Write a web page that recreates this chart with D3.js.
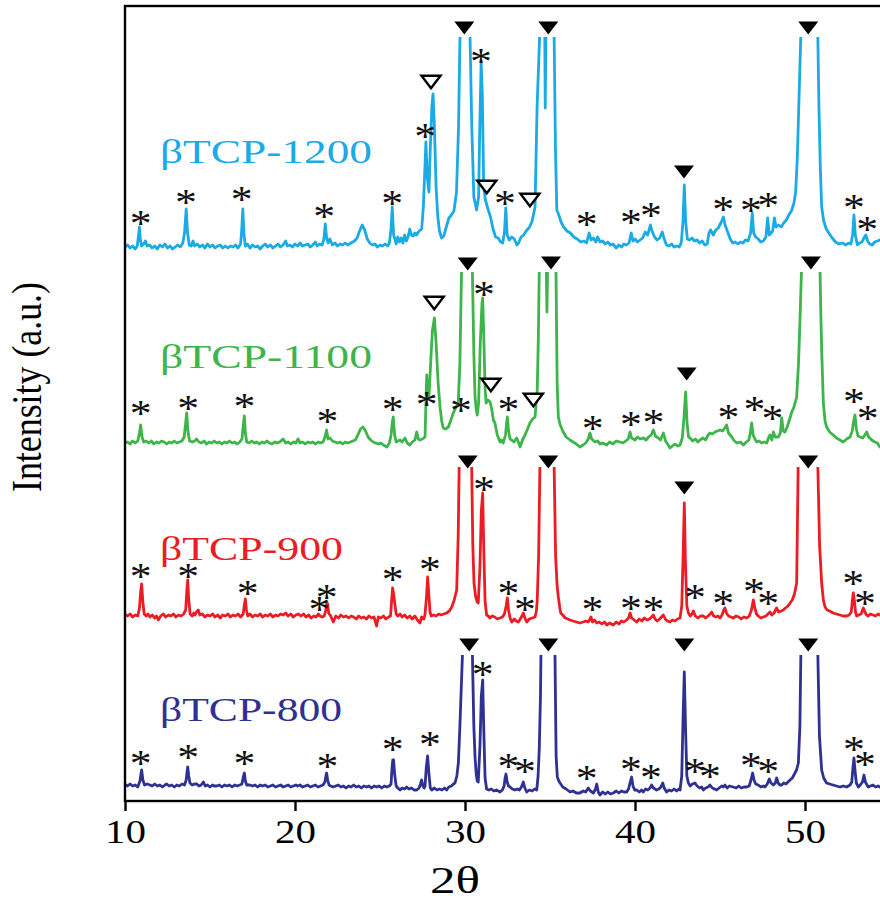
<!DOCTYPE html>
<html>
<head>
<meta charset="utf-8">
<script src="https://cdn.jsdelivr.net/npm/d3@7"></script>
<style>
  body { margin: 0; background: #fff; }
  svg { display: block; }
  text { font-family: "Liberation Serif", "Times New Roman", serif; }
</style>
</head>
<body>
<svg id="chart" width="880" height="902"></svg>
<script>
// XRD patterns of β-TCP calcined at four temperatures, stacked with vertical offsets.
// Each pattern: [2θ (deg), intensity above its own baseline (a.u.)]

const sampleNames = ["βTCP-1200", "βTCP-1100", "βTCP-900", "βTCP-800"];
const sampleColors = ["#1aabe6", "#3db54a", "#ec1c24", "#2e3192"];
const sampleOffsets = [554, 358, 185, 15];      // stacking offset of each pattern (a.u.)
const sampleCaps = [210, 171, 149, 131];        // strongest reflections are cut at this level
const xTicks = [10, 20, 30, 40, 50];

const pattern1200 = [
  [10.0,0],[10.15,2],[10.3,-1],[10.45,1],[10.6,-2],[10.72,1],[10.8,12],[10.85,20],[10.9,8],[10.97,1],
  [11.1,3],[11.2,6],[11.3,1],[11.45,2],[11.6,-1],[11.75,1],[11.9,-2],[12.05,2],[12.2,0],[12.35,3],
  [12.5,-1],[12.65,1],[12.8,-2],[12.95,0],[13.1,2],[13.25,0],[13.4,4],[13.5,14],[13.6,38],[13.68,14],
  [13.78,2],[13.9,1],[14.0,6],[14.1,1],[14.25,3],[14.4,0],[14.55,2],[14.7,-1],[14.85,3],[15.0,0],
  [15.15,2],[15.3,-1],[15.45,1],[15.6,2],[15.75,-1],[15.9,1],[16.05,-1],[16.2,1],[16.35,0],[16.5,2],
  [16.65,-1],[16.8,3],[16.87,18],[16.93,38],[17.0,12],[17.08,1],[17.2,3],[17.35,-1],[17.5,2],[17.65,0],
  [17.8,1],[17.95,-2],[18.1,1],[18.25,3],[18.4,0],[18.55,2],[18.7,-1],[18.85,1],[19.0,3],[19.15,0],
  [19.3,2],[19.45,6],[19.55,1],[19.7,2],[19.85,0],[20.0,3],[20.15,1],[20.3,4],[20.45,1],[20.6,2],
  [20.75,3],[20.9,0],[21.05,2],[21.2,5],[21.3,1],[21.45,3],[21.6,2],[21.7,8],[21.78,23],[21.86,9],
  [21.95,4],[22.05,8],[22.2,2],[22.35,4],[22.5,1],[22.65,3],[22.8,2],[22.95,4],[23.1,2],[23.3,4],
  [23.5,6],[23.65,9],[23.8,16],[23.95,22],[24.1,17],[24.25,8],[24.4,4],[24.55,2],[24.7,3],[24.85,0],
  [25.0,2],[25.15,1],[25.3,3],[25.45,1],[25.55,4],[25.65,18],[25.72,40],[25.8,12],[25.88,8],[25.95,3],
  [26.05,10],[26.15,5],[26.25,9],[26.35,4],[26.45,12],[26.55,6],[26.65,10],[26.75,18],[26.85,12],[26.95,11],
  [27.05,14],[27.15,12],[27.3,16],[27.45,18],[27.55,40],[27.62,70],[27.7,105],[27.78,70],[27.88,55],[27.96,100],
  [28.05,140],[28.12,153],[28.2,120],[28.3,60],[28.4,30],[28.5,16],[28.62,9],[28.75,11],[28.9,20],[29.05,29],
  [29.2,32],[29.35,36],[29.5,55],[29.62,120],[29.71,215],[30.0,900],[30.29,215],[30.4,120],[30.52,50],[30.68,37],
  [30.8,50],[30.87,120],[30.95,185],[31.02,150],[31.1,60],[31.2,47],[31.35,38],[31.5,30],[31.65,18],[31.8,10],
  [31.95,9],[32.1,5],[32.22,4],[32.32,15],[32.4,39],[32.48,12],[32.6,7],[32.75,10],[32.9,8],[33.05,2],
  [33.15,4],[33.3,10],[33.45,12],[33.6,16],[33.8,20],[33.95,26],[34.12,40],[34.24,140],[34.4,215],[34.55,800],
  [34.69,215],[34.72,139],[34.76,215],[35.05,800],[35.24,215],[35.32,100],[35.4,37],[35.5,33],[35.65,25],[35.8,20],
  [36.0,16],[36.2,14],[36.4,10],[36.6,8],[36.8,5],[37.0,6],[37.15,4],[37.3,14],[37.42,7],[37.55,9],
  [37.7,5],[37.8,10],[37.95,5],[38.1,6],[38.25,3],[38.4,5],[38.55,2],[38.7,3],[38.9,-1],[39.05,2],
  [39.2,0],[39.35,3],[39.5,2],[39.65,4],[39.78,14],[39.88,6],[40.0,8],[40.15,5],[40.3,7],[40.45,9],
  [40.6,15],[40.75,12],[40.9,22],[41.0,16],[41.15,10],[41.3,7],[41.45,9],[41.6,15],[41.72,8],[41.85,2],
  [42.0,1],[42.15,3],[42.3,0],[42.45,1],[42.6,0],[42.72,4],[42.82,25],[42.9,62],[42.98,25],[43.08,8],
  [43.2,7],[43.35,9],[43.5,6],[43.65,7],[43.8,4],[43.95,6],[44.1,2],[44.25,3],[44.35,14],[44.45,17],
  [44.6,12],[44.75,17],[44.9,19],[45.05,24],[45.2,30],[45.3,22],[45.45,15],[45.6,8],[45.75,4],[45.9,5],
  [46.05,3],[46.2,5],[46.35,4],[46.5,7],[46.65,6],[46.8,14],[46.9,34],[46.98,14],[47.1,10],[47.25,8],
  [47.4,5],[47.55,6],[47.7,10],[47.8,29],[47.9,12],[48.0,14],[48.1,16],[48.2,29],[48.3,20],[48.45,22],
  [48.6,20],[48.75,24],[48.9,27],[49.05,32],[49.2,36],[49.35,44],[49.45,55],[49.55,90],[49.65,150],[49.76,215],
  [50.25,900],[50.75,215],[50.82,140],[50.9,80],[50.98,40],[51.1,26],[51.25,18],[51.4,14],[51.6,9],[51.8,5],
  [52.0,3],[52.2,4],[52.4,2],[52.55,4],[52.7,3],[52.8,12],[52.88,32],[52.96,12],[53.08,2],[53.2,4],
  [53.35,5],[53.5,10],[53.58,12],[53.68,6],[53.8,3],[53.95,2],[54.1,5],[54.25,6],[54.4,7],[54.6,5],
  [54.8,4],[55.0,4]
];

const pattern1100 = [
  [10.0,0],[10.15,1],[10.3,-1],[10.45,2],[10.6,0],[10.75,2],[10.85,10],[10.92,18],[11.0,6],[11.1,1],
  [11.25,2],[11.4,0],[11.55,2],[11.7,-1],[11.85,1],[12.0,0],[12.15,2],[12.3,1],[12.45,-1],[12.6,1],
  [12.75,0],[12.9,2],[13.05,0],[13.2,1],[13.35,2],[13.48,6],[13.57,20],[13.63,30],[13.7,12],[13.8,2],
  [13.95,1],[14.1,2],[14.21,4],[14.35,1],[14.5,0],[14.65,2],[14.8,-1],[14.95,1],[15.1,0],[15.25,2],
  [15.4,0],[15.55,1],[15.7,-1],[15.85,1],[16.0,0],[16.15,2],[16.3,0],[16.45,1],[16.6,-1],[16.75,1],
  [16.88,4],[16.96,18],[17.02,27],[17.08,10],[17.16,1],[17.3,0],[17.45,2],[17.6,0],[17.75,1],[17.9,-1],
  [18.05,1],[18.2,0],[18.35,2],[18.5,0],[18.65,-1],[18.8,1],[18.95,0],[19.1,1],[19.3,4],[19.45,0],
  [19.6,1],[19.75,-1],[19.9,1],[20.05,0],[20.18,4],[20.3,0],[20.45,1],[20.6,-1],[20.75,1],[20.9,0],
  [21.05,1],[21.2,-1],[21.35,1],[21.5,0],[21.65,1],[21.76,6],[21.86,13],[21.94,4],[22.06,5],[22.2,2],
  [22.35,1],[22.5,0],[22.65,1],[22.8,-1],[22.95,1],[23.1,0],[23.25,1],[23.4,2],[23.55,3],[23.7,8],
  [23.85,14],[24.0,16],[24.15,12],[24.3,6],[24.45,3],[24.6,1],[24.75,0],[24.9,-1],[25.05,0],[25.2,-2],
  [25.4,-4],[25.55,0],[25.65,8],[25.72,20],[25.78,26],[25.86,8],[25.95,1],[26.05,2],[26.18,3],[26.3,1],
  [26.47,5],[26.6,0],[26.76,-2],[26.9,1],[27.05,3],[27.16,11],[27.25,4],[27.35,3],[27.5,4],[27.65,6],
  [27.7,40],[27.75,68],[27.82,50],[27.88,46],[27.98,80],[28.08,112],[28.2,125],[28.3,100],[28.42,60],[28.53,36],
  [28.63,22],[28.72,15],[28.85,14],[29.02,16],[29.15,22],[29.31,30],[29.45,35],[29.6,40],[29.7,80],[29.8,176],
  [30.1,900],[30.43,176],[30.52,90],[30.59,46],[30.66,34],[30.72,28],[30.8,40],[30.9,100],[31.0,140],[31.04,145],
  [31.1,110],[31.18,55],[31.24,40],[31.35,43],[31.47,41],[31.57,34],[31.67,23],[31.76,20],[31.9,8],[32.06,1],
  [32.15,3],[32.25,0],[32.38,8],[32.45,20],[32.49,26],[32.56,12],[32.65,4],[32.75,3],[32.88,1],[33.04,5],
  [33.14,1],[33.24,-4],[33.38,3],[33.53,8],[33.68,14],[33.82,20],[33.98,24],[34.12,26],[34.25,53],[34.32,110],
  [34.37,176],[34.6,800],[34.78,176],[34.82,131],[34.86,176],[35.1,800],[35.35,176],[35.42,60],[35.49,26],[35.6,18],
  [35.78,11],[35.95,6],[36.18,3],[36.35,1],[36.55,-1],[36.76,-4],[36.95,-2],[37.1,0],[37.25,4],[37.35,10],
  [37.45,4],[37.65,1],[37.8,2],[37.95,-1],[38.1,0],[38.33,-2],[38.5,1],[38.7,-1],[38.9,2],[39.12,1],
  [39.3,0],[39.45,2],[39.6,4],[39.71,11],[39.8,5],[40.0,3],[40.15,6],[40.3,4],[40.49,5],[40.65,3],
  [40.8,6],[40.95,8],[41.08,13],[41.2,7],[41.37,5],[41.5,3],[41.67,10],[41.8,2],[41.95,-2],[42.06,-5],
  [42.2,-3],[42.35,-1],[42.5,-3],[42.65,-2],[42.78,5],[42.88,25],[42.98,51],[43.06,20],[43.15,6],[43.24,5],
  [43.4,2],[43.55,4],[43.7,1],[43.82,3],[44.0,5],[44.15,3],[44.3,8],[44.41,10],[44.55,9],[44.7,11],
  [44.85,12],[45.0,13],[45.15,12],[45.28,15],[45.39,18],[45.5,10],[45.69,6],[45.85,2],[46.0,0],[46.2,1],
  [46.37,-2],[46.55,1],[46.7,3],[46.8,12],[46.86,20],[46.95,8],[47.05,4],[47.16,1],[47.3,2],[47.45,0],
  [47.6,1],[47.75,0],[47.85,5],[47.94,8],[48.05,3],[48.14,11],[48.25,6],[48.43,6],[48.55,10],[48.63,25],
  [48.72,12],[48.82,11],[48.95,16],[49.1,24],[49.22,31],[49.35,36],[49.51,46],[49.62,80],[49.71,126],[49.8,176],
  [50.35,900],[50.88,176],[50.93,130],[50.98,93],[51.08,40],[51.18,22],[51.27,16],[51.45,11],[51.66,8],[51.85,5],
  [52.05,3],[52.25,1],[52.45,4],[52.65,6],[52.78,12],[52.86,22],[52.94,28],[53.02,14],[53.12,7],[53.24,6],
  [53.4,5],[53.52,8],[53.63,11],[53.75,6],[53.92,3],[54.1,1],[54.25,0],[54.41,-4],[54.6,-2],[54.8,-3],
  [55.0,-2]
];

const pattern900 = [
  [10.0,2],[10.15,0],[10.3,2],[10.45,-1],[10.6,1],[10.75,0],[10.85,8],[10.92,24],[10.98,32],[11.05,14],
  [11.13,2],[11.25,0],[11.35,2],[11.47,-1],[11.6,1],[11.75,-2],[11.86,0],[11.96,-4],[12.1,0],[12.25,2],
  [12.4,-1],[12.55,1],[12.7,0],[12.85,2],[13.0,-1],[13.15,1],[13.3,0],[13.45,2],[13.57,6],[13.64,26],
  [13.69,36],[13.75,16],[13.83,2],[13.95,0],[14.05,3],[14.12,1],[14.2,4],[14.31,6],[14.4,1],[14.55,2],
  [14.7,-1],[14.85,1],[15.0,0],[15.15,2],[15.3,-1],[15.45,1],[15.6,-2],[15.75,1],[15.9,0],[16.05,2],
  [16.2,-1],[16.35,1],[16.5,0],[16.65,2],[16.8,-1],[16.95,2],[17.03,12],[17.08,17],[17.14,6],[17.22,0],
  [17.35,2],[17.5,-1],[17.65,1],[17.8,0],[17.95,2],[18.1,-1],[18.25,1],[18.4,0],[18.55,2],[18.7,-1],
  [18.85,1],[19.0,0],[19.15,2],[19.31,1],[19.45,3],[19.6,0],[19.75,2],[19.9,-1],[20.05,1],[20.2,2],
  [20.35,0],[20.5,2],[20.65,-1],[20.8,1],[20.95,-2],[21.1,0],[21.25,-1],[21.37,2],[21.47,0],[21.6,-1],
  [21.72,0],[21.8,5],[21.86,12],[21.92,12],[21.98,3],[22.1,0],[22.25,-6],[22.4,0],[22.55,-2],[22.7,1],
  [22.85,-1],[23.0,0],[23.15,-2],[23.3,0],[23.45,-1],[23.6,-3],[23.75,0],[23.9,-2],[24.05,-1],[24.2,-3],
  [24.35,0],[24.5,-2],[24.65,-1],[24.8,-10],[24.9,-1],[25.05,-2],[25.2,0],[25.35,-3],[25.5,-1],[25.62,0],
  [25.68,14],[25.74,28],[25.8,22],[25.86,14],[25.95,2],[26.05,0],[26.18,2],[26.3,-1],[26.45,1],[26.6,-2],
  [26.75,0],[26.9,-3],[27.05,0],[27.2,-4],[27.35,-7],[27.45,-1],[27.58,-3],[27.65,2],[27.74,20],[27.8,39],
  [27.86,25],[27.94,4],[28.02,0],[28.14,1],[28.3,0],[28.45,2],[28.6,1],[28.75,2],[28.92,3],[29.08,5],
  [29.22,9],[29.35,15],[29.51,26],[29.6,80],[29.66,153],[30.0,900],[30.39,153],[30.46,70],[30.53,33],[30.62,20],
  [30.72,14],[30.78,13],[30.88,50],[30.96,105],[31.04,123],[31.1,70],[31.18,15],[31.27,1],[31.37,0],[31.47,-2],
  [31.6,0],[31.75,-1],[31.9,-3],[32.06,-2],[32.2,-1],[32.32,2],[32.42,10],[32.49,18],[32.56,6],[32.65,-2],
  [32.75,-6],[32.9,-3],[33.0,-5],[33.14,-6],[33.25,-3],[33.35,0],[33.43,3],[33.52,-2],[33.63,-6],[33.78,-3],
  [33.95,-2],[34.12,-1],[34.2,5],[34.25,16],[34.33,60],[34.41,153],[34.8,800],[35.24,153],[35.33,60],[35.42,30],
  [35.49,19],[35.57,9],[35.63,3],[35.75,1],[35.9,-2],[36.05,-3],[36.18,-4],[36.35,-5],[36.55,-6],[36.76,-7],
  [36.95,-6],[37.1,-5],[37.25,-6],[37.35,-3],[37.41,-1],[37.5,-6],[37.62,-4],[37.75,-7],[37.9,-6],[38.05,-8],
  [38.2,-6],[38.35,-9],[38.5,-7],[38.72,-9],[38.9,-6],[39.05,-8],[39.2,-5],[39.35,-6],[39.5,-4],[39.62,-2],
  [39.71,3],[39.8,-2],[39.95,-4],[40.1,-6],[40.25,-3],[40.4,-5],[40.55,-2],[40.7,-4],[40.85,-3],[40.98,-1],
  [41.08,1],[41.18,-3],[41.3,-5],[41.45,-3],[41.56,-1],[41.67,1],[41.78,-3],[41.9,-5],[42.06,-6],[42.2,-4],
  [42.35,-5],[42.5,-3],[42.65,-2],[42.75,10],[42.83,60],[42.9,113],[42.97,50],[43.05,10],[43.14,3],[43.25,0],
  [43.35,2],[43.43,5],[43.55,0],[43.7,-2],[43.85,0],[44.02,0],[44.15,-2],[44.3,0],[44.42,2],[44.51,4],
  [44.62,0],[44.75,-1],[44.88,0],[45.0,-2],[45.12,1],[45.22,6],[45.29,8],[45.38,3],[45.5,0],[45.65,-1],
  [45.78,-2],[45.95,0],[46.1,-1],[46.25,-3],[46.4,-1],[46.57,-2],[46.72,0],[46.85,6],[46.96,16],[47.05,8],
  [47.15,2],[47.25,0],[47.4,-2],[47.55,-1],[47.7,0],[47.82,2],[47.94,4],[48.05,1],[48.18,3],[48.33,8],
  [48.45,4],[48.6,5],[48.72,6],[48.85,8],[49.0,10],[49.12,13],[49.25,16],[49.38,22],[49.51,33],[49.6,153],
  [50.2,900],[50.75,153],[50.86,70],[50.98,33],[51.08,16],[51.18,9],[51.3,6],[51.45,5],[51.66,3],[51.85,2],
  [52.05,1],[52.25,0],[52.45,0],[52.6,1],[52.72,4],[52.78,14],[52.84,23],[52.9,16],[52.97,4],[53.04,0],
  [53.15,1],[53.3,2],[53.43,8],[53.52,4],[53.62,1],[53.72,0],[53.85,2],[54.0,1],[54.15,0],[54.3,2],
  [54.41,1],[54.6,2],[54.8,1],[55.0,2]
];

const pattern800 = [
  [10.0,2],[10.15,0],[10.3,2],[10.45,0],[10.6,1],[10.75,-1],[10.88,5],[10.94,12],[10.98,16],[11.05,6],
  [11.15,1],[11.3,2],[11.47,1],[11.6,0],[11.75,2],[11.9,0],[12.05,1],[12.2,-1],[12.35,1],[12.45,2],
  [12.6,0],[12.75,1],[12.9,-1],[13.05,1],[13.2,0],[13.35,2],[13.5,1],[13.6,6],[13.65,14],[13.69,19],
  [13.75,10],[13.82,3],[13.95,1],[14.08,2],[14.22,2],[14.35,0],[14.48,1],[14.61,4],[14.72,0],[14.85,1],
  [15.0,-1],[15.15,1],[15.25,0],[15.39,0],[15.55,1],[15.7,-1],[15.85,1],[16.0,0],[16.15,1],[16.3,-1],
  [16.45,1],[16.6,0],[16.75,1],[16.88,2],[16.96,9],[17.02,13],[17.08,5],[17.16,1],[17.35,1],[17.5,0],
  [17.65,1],[17.8,-1],[17.95,1],[18.1,0],[18.25,1],[18.4,-1],[18.55,0],[18.7,1],[18.85,-1],[19.0,0],
  [19.15,1],[19.31,-1],[19.45,0],[19.6,1],[19.75,-1],[19.9,0],[20.05,1],[20.15,0],[20.29,1],[20.45,-1],
  [20.6,0],[20.75,1],[20.9,-1],[21.05,0],[21.2,1],[21.35,-1],[21.5,0],[21.65,1],[21.76,4],[21.82,10],
  [21.86,13],[21.92,6],[22.0,1],[22.1,0],[22.25,-1],[22.4,0],[22.55,1],[22.7,-1],[22.85,0],[23.0,-2],
  [23.15,0],[23.3,-1],[23.45,1],[23.6,-1],[23.75,0],[23.9,-2],[24.05,0],[24.22,-1],[24.35,0],[24.5,-2],
  [24.65,0],[24.8,-1],[24.95,0],[25.1,-2],[25.25,0],[25.4,-1],[25.55,0],[25.65,2],[25.7,16],[25.75,26],
  [25.8,26],[25.86,12],[25.95,0],[26.05,-2],[26.18,-4],[26.3,-2],[26.45,-3],[26.57,-1],[26.7,-3],[26.85,-2],
  [27.0,-4],[27.16,-4],[27.3,-2],[27.38,2],[27.45,6],[27.52,0],[27.6,-2],[27.65,0],[27.72,18],[27.8,30],
  [27.88,12],[27.96,-2],[28.04,-4],[28.2,-2],[28.35,-4],[28.5,-3],[28.65,-4],[28.8,-2],[28.92,-4],[29.05,-1],
  [29.2,0],[29.32,2],[29.41,3],[29.52,10],[29.61,23],[29.7,60],[29.86,136],[30.15,900],[30.43,136],[30.52,60],
  [30.59,29],[30.66,12],[30.72,5],[30.78,4],[30.88,40],[30.96,90],[31.04,106],[31.1,60],[31.18,8],[31.27,-3],
  [31.4,-4],[31.55,-3],[31.7,-5],[31.85,-4],[32.06,-6],[32.2,-4],[32.3,0],[32.36,8],[32.41,12],[32.48,4],
  [32.56,0],[32.65,-1],[32.78,-3],[32.94,-4],[33.08,-3],[33.2,-4],[33.32,-1],[33.43,4],[33.52,-2],[33.63,-6],
  [33.78,-4],[33.95,-5],[34.1,-3],[34.22,-4],[34.3,10],[34.37,38],[34.44,90],[34.47,136],[34.88,800],[35.29,136],
  [35.36,30],[35.43,9],[35.52,5],[35.59,3],[35.75,-1],[35.95,-3],[36.18,-6],[36.35,-5],[36.55,-7],[36.76,-7],
  [36.95,-5],[37.1,-6],[37.25,-2],[37.38,-5],[37.55,-7],[37.68,-3],[37.75,2],[37.84,-6],[37.94,-9],[38.1,-6],
  [38.25,-8],[38.4,-6],[38.55,-8],[38.72,-7],[38.9,-5],[39.05,-7],[39.2,-5],[39.35,-6],[39.51,-6],[39.62,-3],
  [39.72,4],[39.8,9],[39.88,0],[39.98,-4],[40.1,-4],[40.25,-6],[40.38,-4],[40.49,-6],[40.62,-3],[40.75,-4],
  [40.88,-2],[40.98,1],[41.08,-2],[41.18,-3],[41.27,-4],[41.4,-3],[41.52,-1],[41.63,3],[41.72,-2],[41.86,-6],
  [42.0,-4],[42.15,-5],[42.3,-3],[42.45,-5],[42.58,-3],[42.65,-4],[42.75,10],[42.83,70],[42.9,114],[42.97,60],
  [43.05,10],[43.14,3],[43.25,0],[43.38,2],[43.53,3],[43.65,0],[43.8,-2],[43.92,-1],[44.02,-4],[44.15,-2],
  [44.3,-1],[44.41,1],[44.55,-2],[44.68,-3],[44.8,-4],[44.95,-2],[45.1,0],[45.2,-1],[45.29,1],[45.42,-2],
  [45.55,0],[45.78,-1],[45.95,-2],[46.1,0],[46.25,-2],[46.4,-1],[46.57,-1],[46.72,0],[46.82,6],[46.92,13],
  [47.0,6],[47.1,2],[47.25,1],[47.4,-1],[47.55,0],[47.65,-1],[47.78,2],[47.9,7],[48.0,3],[48.14,1],
  [48.25,3],[48.33,8],[48.42,3],[48.52,1],[48.63,1],[48.75,3],[48.88,2],[49.0,4],[49.12,6],[49.25,8],
  [49.38,12],[49.5,16],[49.61,23],[49.7,60],[49.76,136],[50.25,900],[50.75,136],[50.85,50],[50.98,16],[51.1,8],
  [51.27,3],[51.45,2],[51.65,1],[51.85,0],[52.06,-1],[52.25,0],[52.45,-1],[52.65,1],[52.75,4],[52.82,18],
  [52.88,28],[52.95,14],[53.02,3],[53.14,-1],[53.25,1],[53.38,4],[53.47,11],[53.55,4],[53.65,1],[53.72,-1],
  [53.85,0],[54.0,1],[54.15,-1],[54.3,0],[54.41,-1],[54.6,0],[54.8,-1],[55.0,0]
];

// Phase markers: [2θ, level above the pattern baseline, kind]
// kind: "ast" = *, "open" = open ▽, "solid" = filled ▼
const marks1200 = [
  [10.92,30,"ast"],[13.59,51,"ast"],[16.86,54,"ast"],[21.72,37,"ast"],[25.72,50,"ast"],[27.65,117,"ast"],
  [28.0,165,"open"],[29.96,219,"solid"],[30.94,192,"ast"],[31.28,60,"open"],[32.35,50,"ast"],[33.82,47,"open"],
  [34.9,219,"solid"],[37.16,29,"ast"],[39.76,31,"ast"],[40.94,38,"ast"],[42.88,75,"solid"],[45.19,44,"ast"],
  [46.82,43,"ast"],[47.84,48,"ast"],[50.19,219,"solid"],[52.88,46,"ast"],[53.66,24,"ast"]
];
const marks1100 = [
  [10.92,36,"ast"],[13.72,41,"ast"],[17.02,43,"ast"],[21.9,28,"ast"],[25.75,40,"ast"],[27.75,45,"ast"],
  [29.76,39,"ast"],[28.19,140,"open"],[30.16,179,"solid"],[31.12,155,"ast"],[31.52,58,"open"],[32.55,40,"ast"],
  [34.02,43,"open"],[35.06,180,"solid"],[37.51,21,"ast"],[39.76,25,"ast"],[41.08,27,"ast"],[43.04,69,"solid"],
  [45.49,32,"ast"],[47.02,40,"ast"],[48.08,31,"ast"],[50.35,180,"solid"],[52.88,48,"ast"],[53.69,31,"ast"]
];
const marks900 = [
  [10.92,46,"ast"],[13.72,46,"ast"],[17.22,29,"ast"],[21.86,25,"ast"],[21.43,13,"ast"],[25.75,43,"ast"],
  [27.94,53,"ast"],[30.16,154,"solid"],[31.12,133,"ast"],[32.55,29,"ast"],[33.53,13,"ast"],[34.9,154,"solid"],
  [37.49,13,"ast"],[39.76,14,"ast"],[41.08,13,"ast"],[42.9,128,"solid"],[43.53,25,"ast"],[45.19,19,"ast"],
  [47.0,31,"ast"],[47.84,19,"ast"],[50.19,154,"solid"],[52.84,39,"ast"],[53.53,19,"ast"]
];
const marks800 = [
  [10.92,29,"ast"],[13.72,35,"ast"],[17.02,29,"ast"],[21.9,26,"ast"],[25.75,43,"ast"],[27.94,48,"ast"],
  [30.25,141,"solid"],[31.04,118,"ast"],[32.55,26,"ast"],[33.53,21,"ast"],[34.9,141,"solid"],[37.16,14,"ast"],
  [39.76,23,"ast"],[40.94,15,"ast"],[42.9,141,"solid"],[43.53,21,"ast"],[44.41,16,"ast"],[46.82,27,"ast"],
  [47.84,21,"ast"],[50.19,141,"solid"],[52.88,43,"ast"],[53.53,28,"ast"]
];

const patterns = [pattern1200, pattern1100, pattern900, pattern800];
const markSets = [marks1200, marks1100, marks900, marks800];

// Sample-name placement (2θ of the left edge, level above baseline) and drawn widths
const labelTheta = 12.06;
const labelLevels = [84, 75, 56, 65];
const labelWidths = [212, 212, 183, 182];

// ---------------------------------------------------------------- drawing
const svg = d3.select("#chart");
const plot = { left: 125, right: 890, top: 6, bottom: 801 };

const x = d3.scaleLinear().domain([10, 55]).range([plot.left, plot.right]);
const y = d3.scaleLinear().domain([0, 800]).range([plot.bottom, plot.bottom - 800]);

const defs = svg.append("defs");

patterns.forEach((pts, i) => {
  const off = sampleOffsets[i];
  const capY = y(off + sampleCaps[i]);
  defs.append("clipPath").attr("id", "cap" + i)
    .append("rect")
    .attr("x", plot.left - 4).attr("y", capY)
    .attr("width", plot.right - plot.left + 8)
    .attr("height", plot.bottom - capY + 20);

  const line = d3.line()
    .x(d => x(d[0]))
    .y(d => y(d[1] + off));

  svg.append("path")
    .datum(pts)
    .attr("clip-path", `url(#cap${i})`)
    .attr("fill", "none")
    .attr("stroke", sampleColors[i])
    .attr("stroke-width", 2.8)
    .attr("stroke-linejoin", "round")
    .attr("d", line);
});

// triangle outline, pointing down, centred on the origin
function downTriangle(w, h) {
  const p = d3.path();
  p.moveTo(-w / 2, -h / 2);
  p.lineTo(w / 2, -h / 2);
  p.lineTo(0, h / 2);
  p.closePath();
  return p.toString();
}

markSets.forEach((marks, i) => {
  const off = sampleOffsets[i];
  const g = svg.append("g");
  marks.forEach(([t, lvl, kind]) => {
    const cx = x(t), cy = y(off + lvl);
    if (kind === "ast") {
      g.append("text")
        .attr("x", 0).attr("y", 0)
        .attr("transform", `translate(${cx},${cy}) scale(1.15,1)`)
        .attr("text-anchor", "middle")
        .attr("dy", "0.49em")
        .attr("font-size", 38)
        .attr("fill", "#111")
        .text("*");
    } else if (kind === "solid") {
      g.append("path")
        .attr("transform", `translate(${cx},${cy})`)
        .attr("d", downTriangle(20, 13))
        .attr("fill", "#000");
    } else {
      g.append("path")
        .attr("transform", `translate(${cx},${cy})`)
        .attr("d", downTriangle(19, 12.5))
        .attr("fill", "#fff")
        .attr("stroke", "#000")
        .attr("stroke-width", 2.4)
        .attr("stroke-linejoin", "miter");
    }
  });
});

// sample names
sampleNames.forEach((name, i) => {
  svg.append("text")
    .attr("x", x(labelTheta))
    .attr("y", y(sampleOffsets[i] + labelLevels[i]))
    .attr("font-size", 33)
    .attr("fill", sampleColors[i])
    .attr("textLength", labelWidths[i])
    .attr("lengthAdjust", "spacingAndGlyphs")
    .text(name);
});

// frame
svg.append("rect")
  .attr("x", plot.left).attr("y", plot.top)
  .attr("width", plot.right - plot.left + 10)
  .attr("height", plot.bottom - plot.top)
  .attr("fill", "none")
  .attr("stroke", "#000")
  .attr("stroke-width", 2.4);

// bottom axis
const xAxis = d3.axisBottom(x).tickValues(xTicks).tickSize(10).tickSizeOuter(0);
const ax = svg.append("g")
  .attr("transform", `translate(0,${plot.bottom})`)
  .call(xAxis);
ax.attr("font-family", null);
ax.select(".domain").remove();
ax.selectAll(".tick line").attr("stroke", "#000").attr("stroke-width", 2.4);
ax.selectAll(".tick text")
  .attr("y", 42).attr("dy", null)
  .attr("fill", "#000")
  .attr("font-size", 34)
  .attr("textLength", 41)
  .attr("lengthAdjust", "spacingAndGlyphs");

// axis titles
svg.append("text")
  .attr("x", 455).attr("y", 893)
  .attr("text-anchor", "middle")
  .attr("font-size", 38)
  .attr("fill", "#000")
  .attr("textLength", 50)
  .attr("lengthAdjust", "spacingAndGlyphs")
  .text("2θ");

svg.append("text")
  .attr("transform", "translate(41,387) rotate(-90) scale(1,1.2)")
  .attr("text-anchor", "middle")
  .attr("font-size", 36)
  .attr("fill", "#000")
  .attr("textLength", 210)
  .attr("lengthAdjust", "spacingAndGlyphs")
  .text("Intensity (a.u.)");
</script>
</body>
</html>
